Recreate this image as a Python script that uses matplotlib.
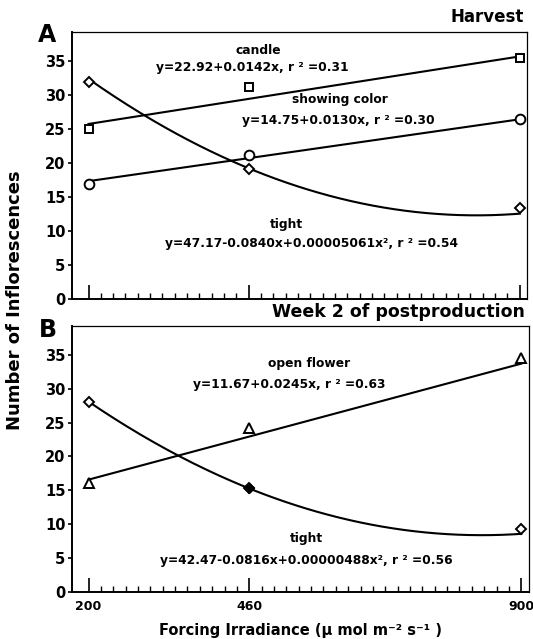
import numpy as np
import matplotlib
matplotlib.use('Agg')
import matplotlib.pyplot as plt
from matplotlib.ticker import FixedLocator

plt.rcParams['font.family'] = ['DejaVu Sans']
plt.rcParams['font.weight'] = 'bold'
plt.rcParams['axes.labelweight'] = 'bold'

# ---- data ----
irradiance = [200, 460, 900]

# panel A (harvest)
candle = [25.0, 31.2, 35.5]
showing_color = [17.0, 21.2, 26.5]
tight_a = [32.0, 19.2, 13.4]

# panel B (week 2 of postproduction)
open_flower = [16.0, 24.2, 34.5]
tight_b = [28.0, 15.3, 9.3]

# regression coefficients (intercept, x, x^2) printed on the figure
candle_fit = [22.92, 0.0142, 0.0]
color_fit = [14.75, 0.0130, 0.0]
tight_a_fit = [47.17, -0.0840, 0.00005061]
open_fit = [11.67, 0.0245, 0.0]
tight_b_fit = [42.47, -0.0816, 0.0000488]

xticks = [200, 460, 900]
yticks = [0, 5, 10, 15, 20, 25, 30, 35]


def fit_line(coef, xs):
    xs = np.asarray(xs, dtype=float)
    return coef[0] + coef[1] * xs + coef[2] * xs ** 2


def style_axes(ax, show_xlabels):
    ax.set_xlim(174, 912)
    ax.set_ylim(0, 39.3)
    ax.set_xticks(xticks)
    ax.xaxis.set_minor_locator(FixedLocator(np.arange(220, 900, 20)))
    ax.set_yticks(yticks)
    ax.tick_params(axis='x', which='major', direction='in', length=10, width=1.2,
                   labelsize=9, pad=6)
    ax.tick_params(axis='x', which='minor', direction='in', length=4, width=1.0)
    ax.tick_params(axis='y', direction='out', length=3, width=1.2, labelsize=10.5, pad=2)
    if not show_xlabels:
        ax.tick_params(axis='x', labelbottom=False)
    for s in ['left', 'bottom']:
        ax.spines[s].set_linewidth(1.4)
    for s in ['top', 'right']:
        ax.spines[s].set_linewidth(0.9)


fig = plt.figure(figsize=(5.33, 6.39), dpi=100)
ax_a = fig.add_axes([0.136, 0.532, 0.853, 0.418])
ax_b = fig.add_axes([0.136, 0.074, 0.856, 0.416])

xs = np.linspace(200, 900, 200)
mk = dict(color='black', mfc='white', mec='black', mew=1.4, linestyle='none', zorder=3)
lw = 1.5

# ---- panel A ----
ax_a.plot(xs, fit_line(candle_fit, xs), color='black', lw=lw)
ax_a.plot(xs, fit_line(color_fit, xs), color='black', lw=lw)
ax_a.plot(xs, fit_line(tight_a_fit, xs), color='black', lw=lw)
ax_a.plot(irradiance, candle, marker='s', ms=6, **mk)
ax_a.plot(irradiance, showing_color, marker='o', ms=7, **mk)
ax_a.plot(irradiance, tight_a, marker='D', ms=5, **mk)

fs = 8.8
ax_a.text(476, 36.6, 'candle', ha='center', va='center', fontsize=fs)
ax_a.text(466, 34.0, 'y=22.92+0.0142x, r ² =0.31', ha='center', va='center', fontsize=fs)
ax_a.text(608, 29.3, 'showing color', ha='center', va='center', fontsize=fs)
ax_a.text(605, 26.3, 'y=14.75+0.0130x, r ² =0.30', ha='center', va='center', fontsize=fs)
ax_a.text(522, 10.9, 'tight', ha='center', va='center', fontsize=fs)
ax_a.text(562, 8.2, 'y=47.17-0.0840x+0.00005061x², r ² =0.54', ha='center', va='center', fontsize=fs)
style_axes(ax_a, False)

# ---- panel B ----
ax_b.plot(xs, fit_line(open_fit, xs), color='black', lw=lw)
ax_b.plot(xs, fit_line(tight_b_fit, xs), color='black', lw=lw)
ax_b.plot(irradiance, open_flower, marker='^', ms=7, **mk)
ax_b.plot(irradiance, tight_b, marker='D', ms=5, **mk)
ax_b.plot(irradiance[1], tight_b[1], marker='D', ms=5, color='black', zorder=4)

ax_b.text(557, 33.8, 'open flower', ha='center', va='center', fontsize=fs)
ax_b.text(524, 30.7, 'y=11.67+0.0245x, r ² =0.63', ha='center', va='center', fontsize=fs)
ax_b.text(552, 7.8, 'tight', ha='center', va='center', fontsize=fs)
ax_b.text(552, 4.6, 'y=42.47-0.0816x+0.00000488x², r ² =0.56', ha='center', va='center', fontsize=fs)
style_axes(ax_b, True)
ax_b.set_xlabel('Forcing Irradiance (µ mol m⁻² s⁻¹ )', fontsize=10.5, labelpad=7)

# panel titles and letters
fig.text(0.982, 0.973, 'Harvest', ha='right', va='center', fontsize=12)
fig.text(0.985, 0.511, 'Week 2 of postproduction', ha='right', va='center', fontsize=12.5)
fig.text(0.072, 0.945, 'A', ha='left', va='center', fontsize=17)
fig.text(0.072, 0.484, 'B', ha='left', va='center', fontsize=17)
fig.text(0.028, 0.53, 'Number of Inflorescences', rotation=90, ha='center', va='center',
         fontsize=13)

fig.savefig('out.png', dpi=100)
